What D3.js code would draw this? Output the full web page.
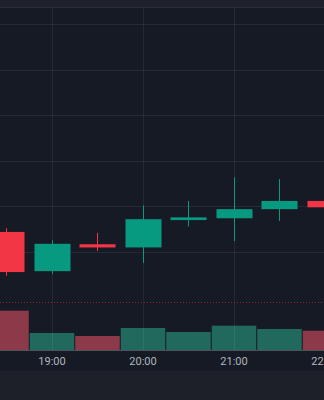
<!DOCTYPE html>
<html>
<head>
<meta charset="utf-8">
<script src="https://cdn.jsdelivr.net/npm/d3@7"></script>
<style>
  html, body { margin: 0; padding: 0; background: #161a25; }
  svg { display: block; }
</style>
</head>
<body>
<svg id="chart"></svg>
<script>
// ===================================================
// CANDLESTICK + VOLUME CHART (30 min bars)
// ===================================================

// Bar times (HH:MM, same day)
const times = ["18:30", "19:00", "19:30", "20:00", "20:30", "21:00", "21:30", "22:00"];

// OHLC values
const opens  = [101.72, 101.29, 101.585, 101.55, 101.85, 101.87, 101.97, 102.06];
const highs  = [101.76, 101.63, 101.71, 102.01, 102.06, 102.32, 102.30, 102.10];
const lows   = [101.24, 101.26, 101.51, 101.38, 101.78, 101.62, 101.84, 101.95];
const closes = [101.28, 101.59, 101.55, 101.86, 101.88, 101.97, 102.06, 101.99];

// Volume per bar
const volumes = [3930, 1700, 1400, 2200, 1800, 2430, 2100, 1930];

// Price grid levels and dotted reference line
const priceTicks = [104.0, 103.5, 103.0, 102.5, 102.0, 101.5];
const refPrice = 100.95;

// Time axis labels
const timeTicks = ["19:00", "20:00", "21:00", "22:00"];


// Dimensions
const width = 324;
const height = 400;
const paneTop = 8;
const volBase = 350;
const axisBottom = 371;

const UP = "#089981";
const DOWN = "#f23645";
const UP_VOL = "#22695d";
const DOWN_VOL = "#8c3a4a";

const parse = d3.timeParse("%H:%M");
const bars = times.map((t, i) => ({
    t: parse(t),
    o: opens[i], h: highs[i], l: lows[i], c: closes[i],
    v: volumes[i]
}));

// Scales
// 19:00 -> x 52, one hour -> 91 px
const t19 = parse("19:00");
const hour = 3600 * 1000;
const x = d3.scaleTime()
    .domain([new Date(+t19 - 52 / 91 * hour), new Date(+t19 + (width - 52) / 91 * hour)])
    .range([0, width]);

const y = d3.scaleLinear()
    .domain([101.5, 104.0])
    .range([252, 24]);

const yVol = d3.scaleLinear()
    .domain([0, 10000])
    .range([volBase, volBase - 100]);

const step = x(new Date(+t19 + hour / 2)) - x(t19);
const bodyW = Math.round(step * 0.79);
const volW = step - 1;


// SVG
const svg = d3.select("#chart")
    .attr("width", width)
    .attr("height", height);

// Background pieces
svg.append("rect")
    .attr("x", 0).attr("y", 0).attr("width", width).attr("height", height)
    .attr("fill", "#161a25");

svg.append("rect")
    .attr("x", 0).attr("y", 0).attr("width", width).attr("height", paneTop - 1)
    .attr("fill", "#1e212b");
svg.append("line")
    .attr("x1", 0).attr("x2", width)
    .attr("y1", paneTop - 0.5).attr("y2", paneTop - 0.5)
    .attr("stroke", "#2a2e39");

svg.append("rect")
    .attr("x", 0).attr("y", axisBottom).attr("width", width).attr("height", height - axisBottom)
    .attr("fill", "#1e2029");


// Volume bars
svg.append("g")
    .selectAll("rect")
    .data(bars)
    .join("rect")
    .attr("x", d => x(d.t) - volW / 2)
    .attr("y", d => yVol(d.v))
    .attr("width", volW)
    .attr("height", d => volBase - yVol(d.v))
    .attr("fill", d => d.c >= d.o ? UP_VOL : DOWN_VOL);


// Grid
const grid = svg.append("g")
    .attr("stroke", "rgba(255,255,255,0.065)")
    .attr("stroke-width", 1);

grid.selectAll(".hgrid")
    .data(priceTicks)
    .join("line")
    .attr("class", "hgrid")
    .attr("x1", 0).attr("x2", width)
    .attr("y1", d => Math.round(y(d)) + 0.5)
    .attr("y2", d => Math.round(y(d)) + 0.5);

grid.selectAll(".vgrid")
    .data(timeTicks.map(parse))
    .join("line")
    .attr("class", "vgrid")
    .attr("x1", d => Math.round(x(d)) + 0.5)
    .attr("x2", d => Math.round(x(d)) + 0.5)
    .attr("y1", paneTop)
    .attr("y2", volBase);


// Dotted reference line
svg.append("line")
    .attr("x1", 0).attr("x2", width)
    .attr("y1", Math.round(y(refPrice)) + 0.5)
    .attr("y2", Math.round(y(refPrice)) + 0.5)
    .attr("stroke", DOWN)
    .attr("stroke-opacity", 0.55)
    .attr("stroke-dasharray", "1 2");


// Candles
const candle = svg.append("g")
    .selectAll("g")
    .data(bars)
    .join("g")
    .attr("fill", d => d.c >= d.o ? UP : DOWN)
    .attr("stroke", d => d.c >= d.o ? UP : DOWN);

// wicks
candle.append("line")
    .attr("x1", d => Math.round(x(d.t)) + 0.5)
    .attr("x2", d => Math.round(x(d.t)) + 0.5)
    .attr("y1", d => y(d.h))
    .attr("y2", d => y(d.l))
    .attr("stroke-width", 1);

// bodies (at least 2px tall)
candle.append("rect")
    .attr("stroke", "none")
    .attr("x", d => Math.round(x(d.t)) + 0.5 - bodyW / 2)
    .attr("y", d => y(Math.max(d.o, d.c)))
    .attr("width", bodyW)
    .attr("height", d => Math.max(2.5, Math.abs(y(d.o) - y(d.c))));


// Time axis
svg.append("line")
    .attr("x1", 0).attr("x2", width)
    .attr("y1", volBase + 0.5).attr("y2", volBase + 0.5)
    .attr("stroke", "#50535e");

svg.append("g")
    .selectAll("text")
    .data(timeTicks)
    .join("text")
    .attr("x", d => x(parse(d)))
    .attr("y", 365)
    .attr("text-anchor", "middle")
    .attr("fill", "#b2b5be")
    .style("font-family", "Roboto, 'Noto Sans', sans-serif")
    .style("font-size", "11px")
    .text(d => d);
</script>
</body>
</html>
